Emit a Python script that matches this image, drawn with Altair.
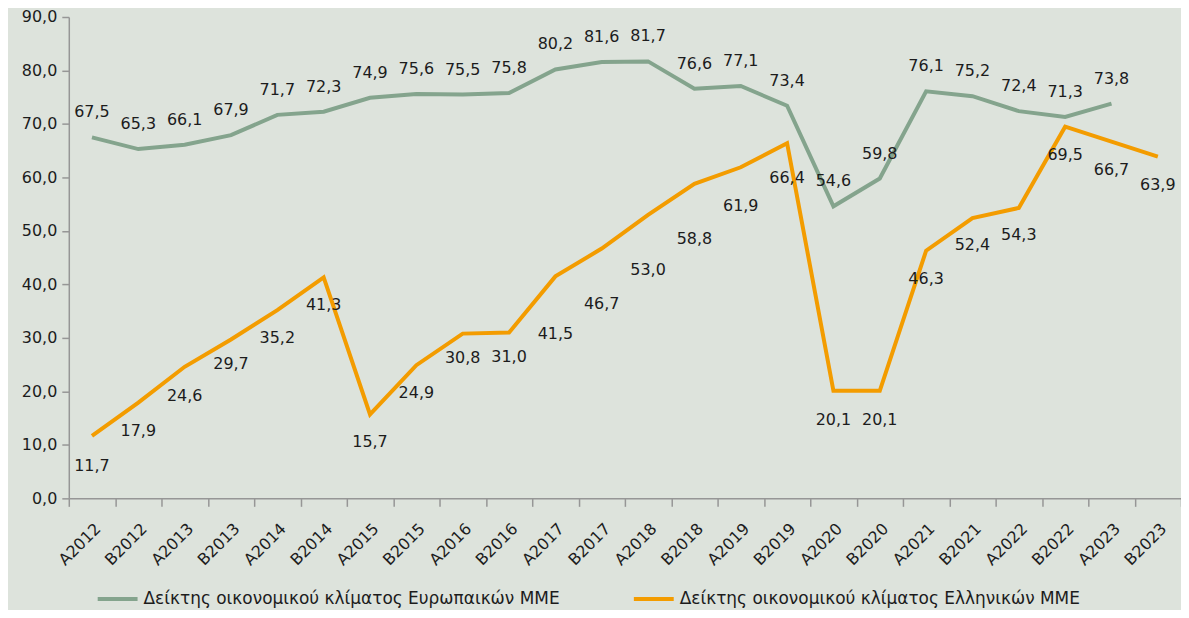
import altair as alt
import pandas as pd

periods = ["A2012", "B2012", "A2013", "B2013", "A2014", "B2014", "A2015", "B2015",
           "A2016", "B2016", "A2017", "B2017", "A2018", "B2018", "A2019", "B2019",
           "A2020", "B2020", "A2021", "B2021", "A2022", "B2022", "A2023", "B2023"]

euro_values = [67.5, 65.3, 66.1, 67.9, 71.7, 72.3, 74.9, 75.6, 75.5, 75.8, 80.2, 81.6,
               81.7, 76.6, 77.1, 73.4, 54.6, 59.8, 76.1, 75.2, 72.4, 71.3, 73.8]

greek_values = [11.7, 17.9, 24.6, 29.7, 35.2, 41.3, 15.7, 24.9, 30.8, 31.0, 41.5, 46.7,
                53.0, 58.8, 61.9, 66.4, 20.1, 20.1, 46.3, 52.4, 54.3, 69.5, 66.7, 63.9]

# label placement offsets (pixels) as in the reference
euro_label_offset = [-25] * len(euro_values)
greek_label_offset = [30, 28, 29, 25, 28, 28, 28, 28, 24, 25, 58, 56,
                      55, 55, 39, 35, 29, 29, 28, 27, 27, 28, 29, 29]

series_names = ["Δείκτης οικονομικού κλίματος Ευρωπαικών  ΜΜΕ",
                "Δείκτης οικονομικού κλίματος Ελληνικών ΜΜΕ"]
series_colors = ["#84a48d", "#f39c00"]

FONT = "DejaVu Sans"
TEXT_COLOR = "#1c1c1c"
AXIS_COLOR = "#969696"

rows = []
for i, p in enumerate(periods):
    if i < len(euro_values):
        rows.append({"period": p, "series": series_names[0], "value": euro_values[i],
                     "off": euro_label_offset[i]})
    rows.append({"period": p, "series": series_names[1], "value": greek_values[i],
                 "off": greek_label_offset[i]})
df = pd.DataFrame(rows)

x_enc = alt.X(
    "period:N", sort=periods,
    scale=alt.Scale(type="band", paddingInner=0, paddingOuter=0),
    axis=alt.Axis(title=None, labelAngle=-45, tickBand="extent", labelFontSize=16,
                  labelFont=FONT, labelColor=TEXT_COLOR, domainColor=AXIS_COLOR,
                  tickColor=AXIS_COLOR, tickSize=8, labelPadding=14, domainWidth=1.5,
                  tickWidth=1.5),
)
y_enc = alt.Y(
    "value:Q",
    scale=alt.Scale(domain=[0, 90], nice=False, zero=True),
    axis=alt.Axis(title=None, values=list(range(0, 91, 10)), grid=False,
                  labelExpr="replace(format(datum.value, '.1f'), '.', ',')",
                  labelFontSize=16, labelFont=FONT, labelColor=TEXT_COLOR,
                  domainColor=AXIS_COLOR, tickColor=AXIS_COLOR, tickSize=7,
                  labelPadding=5, domainWidth=1.5, tickWidth=1.5),
)

lines = alt.Chart(df).mark_line(strokeWidth=4).encode(
    x=x_enc,
    y=y_enc,
    color=alt.Color(
        "series:N",
        scale=alt.Scale(domain=series_names, range=series_colors),
        sort=series_names,
        legend=alt.Legend(
            title=None, orient="none", legendX=27, legendY=562, direction="horizontal",
            symbolType="stroke", symbolSize=1600, symbolStrokeWidth=4,
            labelFontSize=17, labelFont=FONT, labelColor=TEXT_COLOR,
            columnPadding=61, labelOffset=4, padding=0, labelLimit=600,
        ),
    ),
)

layers = [lines]
for off in sorted(set(euro_label_offset + greek_label_offset)):
    layers.append(
        alt.Chart(df).transform_filter(f"datum.off == {off}").transform_calculate(
            label="replace(format(datum.value, '.1f'), '.', ',')"
        ).mark_text(fontSize=16, font=FONT, color=TEXT_COLOR, baseline="middle",
                    dy=off).encode(
            x=x_enc,
            y=y_enc,
            text="label:N",
        )
    )

chart = alt.layer(*layers).properties(
    width=1116, height=483,
    autosize=alt.AutoSizeParams(type="none"),
    padding={"left": 61, "top": 8, "right": 0, "bottom": 111},
    background="#dde3dc",
).configure_view(stroke=None)

chart.save("out.html", embed_options={"renderer": "svg", "actions": False})
